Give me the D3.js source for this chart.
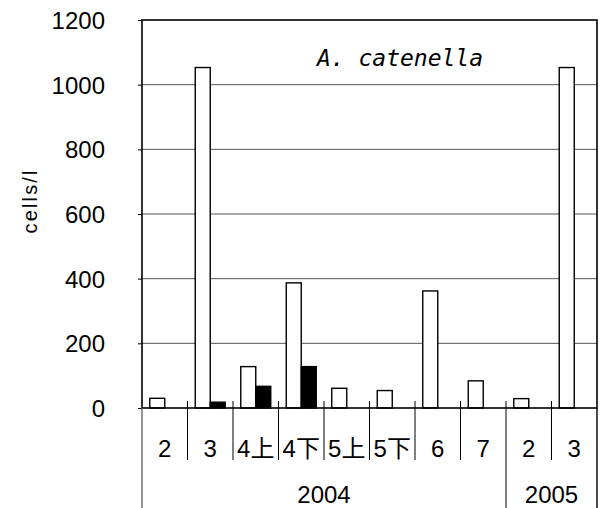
<!DOCTYPE html>
<html><head><meta charset="utf-8">
<script src="https://cdn.jsdelivr.net/npm/d3@7"></script>
<style>body{margin:0;background:#fff}</style>
</head><body>
<svg id="c" width="602" height="508"></svg>
<script>
const categories = ["2","3","4上","4下","5上","5下","6","7","2","3"];
const years = [{label:"2004", from:0, to:8},{label:"2005", from:8, to:10}];
const seriesNames = ["open","filled"];
const openValues = [30,1053,128,387,61,54,362,84,29,1053];
const filledValues = [0,18,67,128,0,0,0,0,0,0];
const yTicks = [0,200,400,600,800,1000,1200];
const title = "A. catenella";
const yLabel = "cells/l";

const svg = d3.select("#c");
const L=142, R=597, T=20, B=408;
const font = "'Liberation Sans','Noto Sans CJK JP',sans-serif";

const x = d3.scaleBand().domain(d3.range(categories.length)).range([L,R]).padding(0);
const xs = d3.scaleBand().domain(seriesNames).range([0,x.bandwidth()]).paddingInner(0).paddingOuter(0.517);
const y = d3.scaleLinear().domain([0,1200]).range([B,T]);

// gridlines
svg.append("g").selectAll("line").data(yTicks.filter(t=>t>0&&t<1200)).join("line")
  .attr("x1",L).attr("x2",R).attr("y1",d=>y(d)).attr("y2",d=>y(d))
  .attr("stroke","#555").attr("stroke-width",1);

// bars
const data = categories.map((c,i)=>({i, vals:[openValues[i], filledValues[i]]}));
const g = svg.append("g");
data.forEach(d=>{
  seriesNames.forEach((s,k)=>{
    const v = d.vals[k];
    if(v<=0) return;
    g.append("rect")
      .attr("x", x(d.i)+xs(s)).attr("width", xs.bandwidth())
      .attr("y", y(v)).attr("height", y(0)-y(v))
      .attr("fill", k===0?"#fff":"#000").attr("stroke","#000").attr("stroke-width",1.4);
  });
});

// frame
svg.append("rect").attr("x",L).attr("y",T).attr("width",R-L).attr("height",B-T)
  .attr("fill","none").attr("stroke","#000").attr("stroke-width",1.6);

// y axis
const yAxis = d3.axisLeft(y).tickValues(yTicks).tickSize(4).tickPadding(33).tickFormat(d3.format("d"));
const ya = svg.append("g").attr("transform",`translate(${L},0)`).call(yAxis);
ya.select(".domain").remove();
ya.selectAll("line").attr("stroke","#000");
ya.selectAll("text").attr("font-family",font).attr("font-size",24).attr("fill","#000").attr("dy","0.36em");

// category separators below axis
const bounds = d3.range(1,categories.length);
svg.append("g").selectAll("line").data(bounds).join("line")
  .attr("x1",d=>x(d)).attr("x2",d=>x(d))
  .attr("y1",B-7).attr("y2",d=>years.some(yr=>yr.from===d)?508:460)
  .attr("stroke","#000").attr("stroke-width",1);
// outer verticals below axis
svg.append("line").attr("x1",L).attr("x2",L).attr("y1",B).attr("y2",508).attr("stroke","#666").attr("stroke-width",1.4);
svg.append("line").attr("x1",R).attr("x2",R).attr("y1",B).attr("y2",508).attr("stroke","#000").attr("stroke-width",1.4);

// category labels
svg.append("g").selectAll("text").data(categories).join("text")
  .attr("x",(d,i)=>x(i)+x.bandwidth()/2).attr("y",457)
  .attr("text-anchor","middle").attr("font-family",font).attr("font-size",24).text(d=>d);

// year labels
svg.append("g").selectAll("text").data(years).join("text")
  .attr("x",d=>(x(d.from)+(d.to<categories.length?x(d.to):R))/2).attr("y",503)
  .attr("text-anchor","middle").attr("font-family",font).attr("font-size",24).text(d=>d.label);

// title
svg.append("text").attr("x",317).attr("y",66).attr("font-family","'DejaVu Sans Mono',monospace")
  .attr("font-style","italic").attr("font-size",23).attr("textLength",166).attr("lengthAdjust","spacing").text(title);

// y label
svg.append("text").attr("transform","translate(37,202) rotate(-90)").attr("text-anchor","middle")
  .attr("font-family",font).attr("font-size",20).attr("textLength",63).attr("lengthAdjust","spacing").text(yLabel);
</script>
</body></html>
